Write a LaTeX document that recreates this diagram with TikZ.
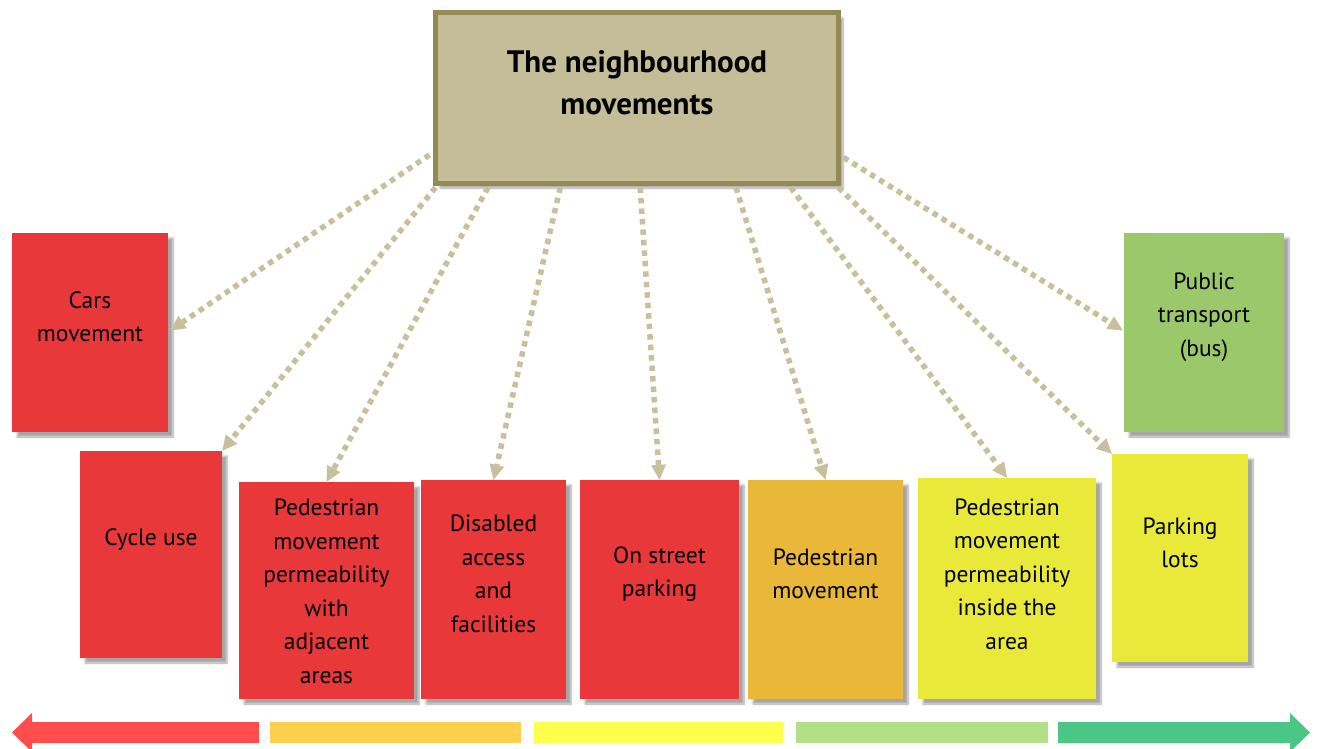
\documentclass[tikz,border=0pt]{standalone}
\usepackage{fontspec}
\setmainfont{PT Sans}
\usetikzlibrary{arrows.meta,shadows.blur,calc}
\definecolor{boxred}{HTML}{E8383A}
\definecolor{boxorange}{HTML}{E9B838}
\definecolor{boxyellow}{HTML}{E9E93A}
\definecolor{boxgreen}{HTML}{9BC86A}
\definecolor{topfill}{HTML}{C4BD97}
\definecolor{topline}{HTML}{948A54}
\definecolor{arrowc}{HTML}{C8C09C}
\definecolor{barred}{HTML}{FF4C4C}
\definecolor{barorange}{HTML}{FFD04D}
\definecolor{baryellow}{HTML}{FFFF4D}
\definecolor{barlgreen}{HTML}{B3E086}
\definecolor{bargreen}{HTML}{4BC785}
\tikzset{
  cbox/.style={rectangle, inner sep=0pt, blur shadow={shadow xshift=5pt, shadow yshift=-5pt, shadow blur steps=6, shadow opacity=35}},
  lbl/.style={align=center, inner sep=0pt, font=\fontsize{23.5}{33.5}\selectfont},
  conn/.style={draw=arrowc, line width=5.5pt, dash pattern=on 5.5pt off 5pt, -{Triangle[length=15pt,width=15pt,line width=0pt]}},
}
\begin{document}
\begin{tikzpicture}[x=1pt,y=-1pt]
\useasboundingbox (0,0) rectangle (1319,749);
% top box
\node[cbox, fill=topfill, draw=topline, line width=5pt, minimum width=403, minimum height=170] (top) at (636.5,98) {};
\node[lbl, font=\fontsize{31}{42}\selectfont\bfseries] (toplbl) at (637,83) {The neighbourhood\\movements};
% boxes
\node[cbox, fill=boxred, minimum width=156, minimum height=199] (cars) at (90,332.5) {};
\node[cbox, fill=boxred, minimum width=142, minimum height=207] (cyc) at (151,554.5) {};
\node[cbox, fill=boxred, minimum width=175, minimum height=217] (pedadj) at (326.5,590.5) {};
\node[cbox, fill=boxred, minimum width=145, minimum height=219] (dis) at (493.5,589.5) {};
\node[cbox, fill=boxred, minimum width=159, minimum height=219] (ons) at (659.5,589.5) {};
\node[cbox, fill=boxorange, minimum width=155, minimum height=219] (pedm) at (825.5,589.5) {};
\node[cbox, fill=boxyellow, minimum width=178, minimum height=221] (pedin) at (1007,588.5) {};
\node[cbox, fill=boxyellow, minimum width=136, minimum height=208] (park) at (1180,558) {};
\node[cbox, fill=boxgreen, minimum width=160, minimum height=199] (pub) at (1204,332.5) {};
% labels
\node[lbl] (carsl) at (90,317) {Cars\\movement};
\node[lbl] (cycl) at (151,540) {Cycle use};
\node[lbl] (pedadjl) at (326.5,591.5) {Pedestrian\\movement\\permeability\\with\\adjacent\\areas};
\node[lbl] (disl) at (493.5,574) {Disabled\\access\\and\\facilities};
\node[lbl] (onsl) at (659.5,574) {On street\\parking};
\node[lbl] (pedml) at (825.5,574) {Pedestrian\\movement};
\node[lbl] (pedinl) at (1007,574) {Pedestrian\\movement\\permeability\\inside the\\area};
\node[lbl] (parkl) at (1180,543) {Parking\\lots};
\node[lbl] (publ) at (1204,317) {Public\\transport\\(bus)};
% connectors
\draw[conn] ($(top.north west)!0.825!(top.south west)+(-3,0)$) -- ($(cars.east)+(2,-2)$);
\draw[conn] ($(top.south west)+(3,2)$) -- (cyc.north east);
\draw[conn] ($(top.south west)!0.136!(top.south east)+(0,2)$) -- (pedadj.north);
\draw[conn] ($(top.south west)!0.313!(top.south east)+(0,2)$) -- (dis.north);
\draw[conn] ($(top.south west)!0.509!(top.south east)+(0,2)$) -- (ons.north);
\draw[conn] ($(top.south west)!0.744!(top.south east)+(0,2)$) -- (pedm.north);
\draw[conn] ($(top.south west)!0.878!(top.south east)+(0,2)$) -- (pedin.north);
\draw[conn] ($(top.south east)+(-2,2)$) -- (park.north west);
\draw[conn] ($(top.north east)!0.84!(top.south east)+(3,0)$) -- ($(pub.west)+(-1,-2)$);
% bottom scale bar
\fill[barred] (12,732.5) -- (32,713) -- (32,722) -- (259,722) -- (259,743) -- (32,743) -- (32,752) -- cycle;
\fill[barorange] (270,722) rectangle (521,743);
\fill[baryellow] (534,722) rectangle (783,743);
\fill[barlgreen] (796,722) rectangle (1048,743);
\fill[bargreen] (1310,732.5) -- (1290,713) -- (1290,722) -- (1058,722) -- (1058,743) -- (1290,743) -- (1290,752) -- cycle;
\end{tikzpicture}
\end{document}
